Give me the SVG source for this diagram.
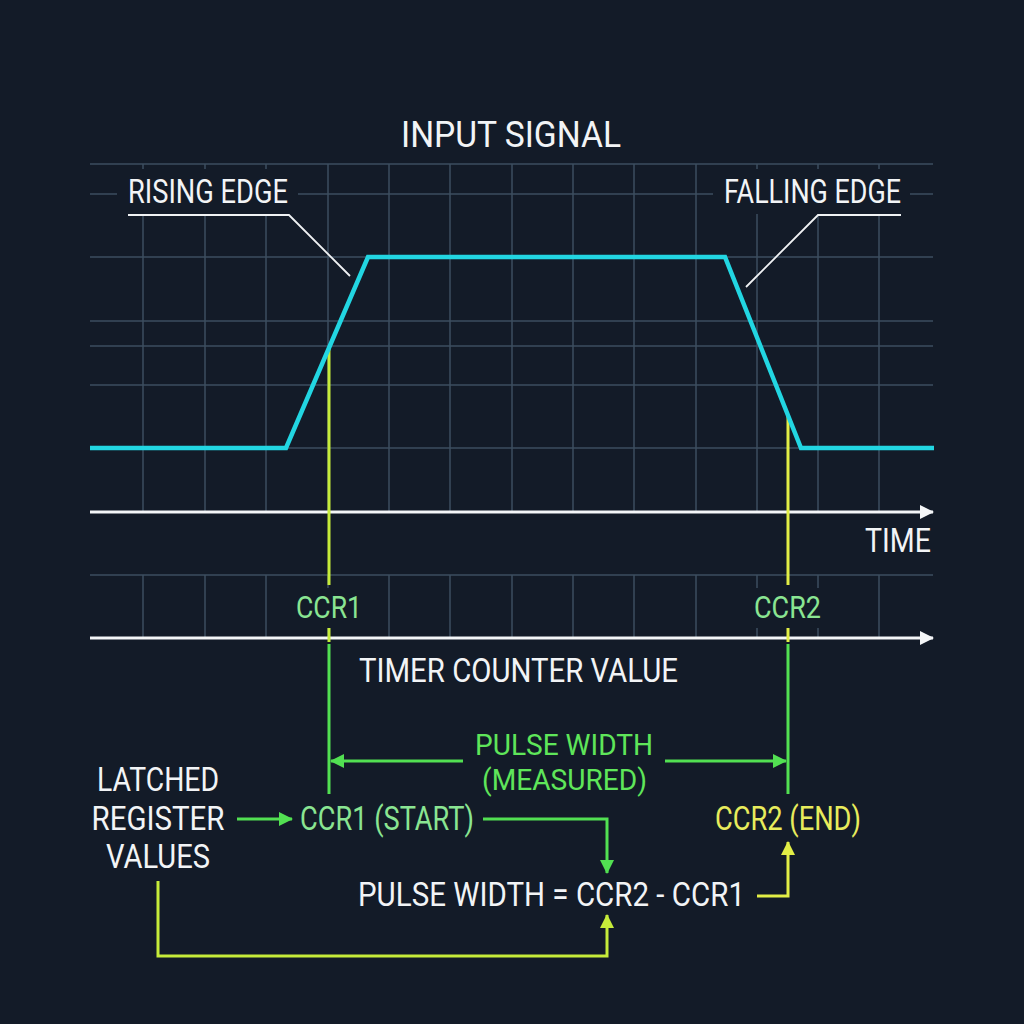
<svg xmlns="http://www.w3.org/2000/svg" width="1024" height="1024" viewBox="0 0 1024 1024">
<style>
text{font-family:"Roboto","Liberation Sans",sans-serif;}
.w{fill:#f2f4f6;}
.lg{fill:#8ae592;}
.g{fill:#5fe65a;}
.y{fill:#e8ec5c;}
.grid line{stroke:#3d4e5f;stroke-width:1.5;}
.axis{stroke:#f4f6f8;stroke-width:3;fill:none;}
.sig{stroke:#22d6e2;stroke-width:4.5;fill:none;stroke-linejoin:miter;}
.ann{stroke:#f0f2f4;stroke-width:1.8;fill:none;}
.yg{stroke:#c6ec3a;stroke-width:3;fill:none;}
.gr{stroke:#52e052;stroke-width:3;fill:none;}
.yl{stroke:#e2ee46;stroke-width:3;fill:none;}
.mask{fill:#131b28;}
</style>
<defs>
<marker id="aw" markerWidth="14" markerHeight="14" refX="13" refY="7" orient="auto" markerUnits="userSpaceOnUse"><path d="M0,0 L14,7 L0,14 Z" fill="#f4f6f8"/></marker>
<marker id="ag" markerWidth="14" markerHeight="14" refX="13" refY="7" orient="auto" markerUnits="userSpaceOnUse"><path d="M0,0 L14,7 L0,14 Z" fill="#52e052"/></marker>
<marker id="ayg" markerWidth="14" markerHeight="14" refX="13" refY="7" orient="auto" markerUnits="userSpaceOnUse"><path d="M0,0 L14,7 L0,14 Z" fill="#c6ec3a"/></marker>
<marker id="ay" markerWidth="14" markerHeight="14" refX="13" refY="7" orient="auto" markerUnits="userSpaceOnUse"><path d="M0,0 L14,7 L0,14 Z" fill="#e2ee46"/></marker>
</defs>
<rect width="1024" height="1024" fill="#131b28"/>
<g id="grid" class="grid">
<line x1="90" y1="164" x2="933" y2="164"/>
<line x1="90" y1="194" x2="933" y2="194"/>
<line x1="90" y1="257" x2="933" y2="257"/>
<line x1="90" y1="321" x2="933" y2="321"/>
<line x1="90" y1="346" x2="933" y2="346"/>
<line x1="90" y1="385" x2="933" y2="385"/>
<line x1="90" y1="448" x2="933" y2="448"/>
<line x1="90" y1="575" x2="933" y2="575"/>
<line x1="143" y1="164" x2="143" y2="512"/><line x1="143" y1="575" x2="143" y2="638"/>
<line x1="205" y1="164" x2="205" y2="512"/><line x1="205" y1="575" x2="205" y2="638"/>
<line x1="266" y1="164" x2="266" y2="512"/><line x1="266" y1="575" x2="266" y2="638"/>
<line x1="328" y1="164" x2="328" y2="512"/><line x1="328" y1="575" x2="328" y2="638"/>
<line x1="389" y1="164" x2="389" y2="512"/><line x1="389" y1="575" x2="389" y2="638"/>
<line x1="450" y1="164" x2="450" y2="512"/><line x1="450" y1="575" x2="450" y2="638"/>
<line x1="512" y1="164" x2="512" y2="512"/><line x1="512" y1="575" x2="512" y2="638"/>
<line x1="573" y1="164" x2="573" y2="512"/><line x1="573" y1="575" x2="573" y2="638"/>
<line x1="634" y1="164" x2="634" y2="512"/><line x1="634" y1="575" x2="634" y2="638"/>
<line x1="696" y1="164" x2="696" y2="512"/><line x1="696" y1="575" x2="696" y2="638"/>
<line x1="757" y1="164" x2="757" y2="512"/><line x1="757" y1="575" x2="757" y2="638"/>
<line x1="818" y1="164" x2="818" y2="512"/><line x1="818" y1="575" x2="818" y2="638"/>
<line x1="879" y1="164" x2="879" y2="512"/><line x1="879" y1="575" x2="879" y2="638"/>
</g>
<rect class="mask" x="117" y="169" width="181" height="45"/>
<rect class="mask" x="713" y="169" width="197" height="45"/>
<rect class="mask" x="292" y="588" width="74" height="40"/>
<rect class="mask" x="750" y="588" width="74" height="40"/>
<text x="511" y="147" class="w" font-size="37" text-anchor="middle" textLength="220" lengthAdjust="spacingAndGlyphs">INPUT SIGNAL</text>
<g id="connectors">
<polyline class="ann" points="128,215 289,215 350,276"/>
<polyline class="ann" points="901,215 818,215 746,287"/>
<line class="axis" x1="90" y1="512" x2="933" y2="512" marker-end="url(#aw)"/>
<line class="axis" x1="90" y1="638" x2="933" y2="638" marker-end="url(#aw)"/>
<line class="yg" x1="329" y1="347" x2="329" y2="585"/>
<line class="yg" x1="329" y1="628" x2="329" y2="642"/>
<line class="gr" x1="329" y1="644" x2="329" y2="794"/>
<line class="yl" x1="788" y1="415" x2="788" y2="585"/>
<line class="yl" x1="788" y1="628" x2="788" y2="642"/>
<line class="gr" x1="788" y1="644" x2="788" y2="794"/>
<line class="gr" x1="463" y1="761" x2="331" y2="761" marker-end="url(#ag)"/>
<line class="gr" x1="665" y1="761" x2="786" y2="761" marker-end="url(#ag)"/>
<line class="gr" x1="237" y1="819" x2="292" y2="819" marker-end="url(#ag)"/>
<polyline class="gr" points="483,819 607,819 607,873" marker-end="url(#ag)"/>
<polyline class="yl" points="757,896 788,896 788,842" marker-end="url(#ay)"/>
<polyline class="yg" points="158,881 158,956 607,956 607,915" marker-end="url(#ayg)"/>
</g>
<g id="signal">
<polyline class="sig" points="90,448 286,448 368,257 725,257 801,448 934,448"/>
</g>
<g id="labels">
<text x="128" y="203" class="w" font-size="34" textLength="160" lengthAdjust="spacingAndGlyphs">RISING EDGE</text>
<text x="724" y="203" class="w" font-size="34" textLength="177" lengthAdjust="spacingAndGlyphs">FALLING EDGE</text>
<text x="931" y="552" class="w" font-size="34" text-anchor="end" textLength="66" lengthAdjust="spacingAndGlyphs">TIME</text>
<text x="359" y="682" class="w" font-size="34" textLength="319" lengthAdjust="spacingAndGlyphs">TIMER COUNTER VALUE</text>
<text x="296" y="618" class="lg" font-size="31" textLength="66" lengthAdjust="spacingAndGlyphs">CCR1</text>
<text x="754" y="618" class="lg" font-size="31" textLength="67" lengthAdjust="spacingAndGlyphs">CCR2</text>
</g>
<g id="pulse-width-label">
<text x="475" y="755" class="g" font-size="30" textLength="178" lengthAdjust="spacingAndGlyphs">PULSE WIDTH</text>
<text x="482" y="790" class="g" font-size="30" textLength="165" lengthAdjust="spacingAndGlyphs">(MEASURED)</text>
</g>
<g id="latched">
<text x="158" y="791" class="w" font-size="33" text-anchor="middle" textLength="122" lengthAdjust="spacingAndGlyphs">LATCHED</text>
<text x="158" y="830" class="w" font-size="33" text-anchor="middle" textLength="133" lengthAdjust="spacingAndGlyphs">REGISTER</text>
<text x="158" y="868" class="w" font-size="33" text-anchor="middle" textLength="104" lengthAdjust="spacingAndGlyphs">VALUES</text>
</g>
<g id="ccr1-start"><text x="300" y="830" class="lg" font-size="33" textLength="174" lengthAdjust="spacingAndGlyphs">CCR1 (START)</text></g>
<g id="ccr2-end"><text x="715" y="830" class="y" font-size="33" textLength="146" lengthAdjust="spacingAndGlyphs">CCR2 (END)</text></g>
<g id="formula"><text x="358" y="906" class="w" font-size="33" textLength="387" lengthAdjust="spacingAndGlyphs">PULSE WIDTH = CCR2 - CCR1</text></g>
</svg>
